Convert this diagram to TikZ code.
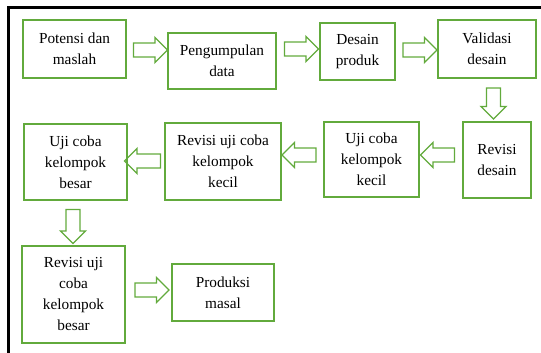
\documentclass[tikz,border=0pt]{standalone}
\usepackage{fontspec}
\setmainfont{Liberation Serif}
\usetikzlibrary{shapes.arrows}
\definecolor{boxgreen}{RGB}{98,170,60}

\begin{document}
\begin{tikzpicture}[x=1pt,y=-1pt,
	box/.style={draw=boxgreen,line width=2pt,align=center,inner sep=0pt,font=\fontsize{15.3}{21}\selectfont},
	blockarrow/.style={single arrow,draw=boxgreen,line width=1.3pt,inner sep=6.3pt,minimum width=0pt,
		single arrow head extend=5.5pt,minimum height=34pt,sloped,allow upside down,midway}]
	\useasboundingbox (0,0) rectangle (541,353);
	\draw[line width=3pt] (541,7.5) -- (8.5,7.5) -- (8.5,353);
	
	\node[box,minimum width=103pt,minimum height=58pt] (potensi) at (74.5,49) {Potensi dan\\maslah};
	\node[box,minimum width=108pt,minimum height=56pt] (pengumpulan) at (222,61) {Pengumpulan\\data};
	\node[box,minimum width=75pt,minimum height=57pt] (desain) at (357.5,51.5) {Desain\\produk};
	\node[box,minimum width=98pt,minimum height=58pt] (validasi) at (487,49) {Validasi\\desain};
	\node[box,minimum width=68pt,minimum height=76pt] (revdesain) at (497,160) {Revisi\\desain};
	\node[box,minimum width=95pt,minimum height=75pt] (ujikecil) at (371.5,159.5) {Uji coba\\kelompok\\kecil};
	\node[box,minimum width=116pt,minimum height=77pt] (revkecil) at (223,161.5) {Revisi uji coba\\kelompok\\kecil};
	\node[box,minimum width=103pt,minimum height=76pt] (ujibesar) at (75.5,162) {Uji coba\\kelompok\\besar};
	\node[box,minimum width=103pt,minimum height=97pt] (revbesar) at (73.5,294.5) {Revisi uji\\coba\\kelompok\\besar};
	\node[box,minimum width=102pt,minimum height=57pt] (produksi) at (223,292.5) {Produksi\\masal};
	
	\path (potensi.east |- 0,50) -- node[blockarrow] {} (pengumpulan.west |- 0,50);
	\path (pengumpulan.east |- 0,49) -- node[blockarrow] {} (desain.west |- 0,49);
	\path (desain.east |- 0,50) -- node[blockarrow] {} (validasi.west |- 0,50);
	\path (validasi.south -| 493.5,0) -- node[blockarrow,minimum height=31pt] {} (revdesain.north -| 493.5,0);
	\path (revdesain.west |- 0,155) -- node[blockarrow] {} (ujikecil.east |- 0,155);
	\path (ujikecil.west |- 0,155) -- node[blockarrow] {} (revkecil.east |- 0,155);
	\path (revkecil.west |- 0,161) -- node[blockarrow,minimum height=36pt] {} (ujibesar.east |- 0,161);
	\path (ujibesar.south -| 73,0) -- node[blockarrow] {} (revbesar.north -| 73,0);
	\path (revbesar.east |- 0,290) -- node[blockarrow] {} (produksi.west |- 0,290);
\end{tikzpicture}
\end{document}
